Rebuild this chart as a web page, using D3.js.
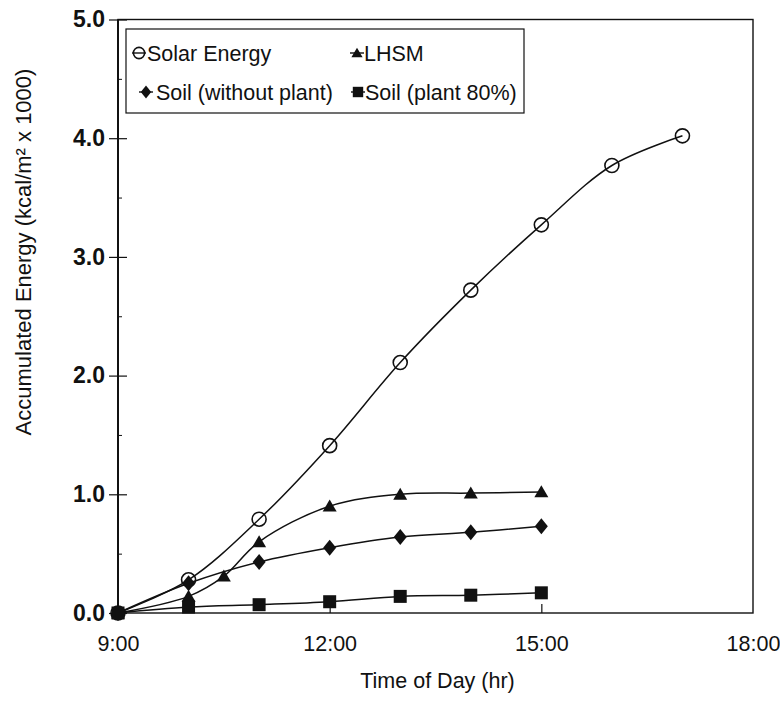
<!DOCTYPE html>
<html>
<head>
<meta charset="utf-8">
<script src="https://cdn.jsdelivr.net/npm/d3@7/dist/d3.min.js"></script>
<style>
  body { margin: 0; background: #fff; }
  svg { display: block; }
  text { font-family: "Liberation Sans", Arial, Helvetica, sans-serif; fill: #111; }
</style>
</head>
<body>
<svg id="chart" width="780" height="705"></svg>
<script>
// ---- data (hours of day, accumulated energy kcal/m2 x 1000) ----
const solarHours = [9, 10, 11, 12, 13, 14, 15, 16, 17];
const solarValues = [0, 0.28, 0.79, 1.41, 2.11, 2.72, 3.27, 3.77, 4.02];
const lhsmHours = [9, 10, 10.5, 11, 12, 13, 14, 15];
const lhsmValues = [0, 0.14, 0.31, 0.60, 0.90, 1.00, 1.01, 1.02];
const soilHours = [9, 10, 11, 12, 13, 14, 15];
const soilValues = [0, 0.25, 0.43, 0.55, 0.64, 0.68, 0.73];
const plantHours = [9, 10, 11, 12, 13, 14, 15];
const plantValues = [0, 0.05, 0.07, 0.095, 0.14, 0.15, 0.17];
const xTickValues = [9, 12, 15, 18];
const xTickLabels = ["9:00", "12:00", "15:00", "18:00"];
const yTickValues = [0, 1, 2, 3, 4, 5];
const yMinorTicks = [0.5, 1.5, 2.5, 3.5, 4.5];
const seriesNames = ["Solar Energy", "LHSM", "Soil (without plant)", "Soil (plant 80%)"];

const svg = d3.select("#chart");
const L = 118, R = 753, T = 19.5, B = 613;
const x = d3.scaleLinear().domain([9, 18]).range([L, R]);
const y = d3.scaleLinear().domain([0, 5]).range([B, T]);
const ink = "#111";

// frame
svg.append("rect").attr("x", L).attr("y", T).attr("width", R - L).attr("height", B - T)
  .attr("fill", "none").attr("stroke", ink).attr("stroke-width", 1.4);
svg.append("line").attr("x1", L).attr("x2", L).attr("y1", T).attr("y2", B)
  .attr("stroke", ink).attr("stroke-width", 2);

// y axis: labels + outward ticks
const yAxisOut = svg.append("g").attr("transform", `translate(${L},0)`)
  .call(d3.axisLeft(y).tickValues(yTickValues).tickFormat(d3.format(".1f")).tickSize(9).tickPadding(4).tickSizeOuter(0));
yAxisOut.select(".domain").remove();
yAxisOut.selectAll("line").attr("stroke", ink).attr("stroke-width", 1.2);
yAxisOut.selectAll("text").attr("font-size", 23).attr("font-weight", "bold")
  .attr("font-family", "Liberation Sans, Arial, sans-serif").attr("fill", ink);

// y inward ticks
const yAxisIn = svg.append("g").attr("transform", `translate(${L},0)`)
  .call(d3.axisRight(y).tickValues(yTickValues).tickFormat("").tickSize(9).tickSizeOuter(0));
yAxisIn.select(".domain").remove();
yAxisIn.selectAll("line").attr("stroke", ink).attr("stroke-width", 1.2);
const yMinor = svg.append("g").attr("transform", `translate(${L},0)`)
  .call(d3.axisRight(y).tickValues(yMinorTicks).tickFormat("").tickSize(4).tickSizeOuter(0));
yMinor.select(".domain").remove();
yMinor.selectAll("line").attr("stroke", ink).attr("stroke-width", 1);

// x axis labels
const xAxis = svg.append("g").attr("transform", `translate(0,${B})`)
  .call(d3.axisBottom(x).tickValues(xTickValues).tickFormat((d, i) => xTickLabels[i]).tickSize(0).tickPadding(23).tickSizeOuter(0));
xAxis.select(".domain").remove();
xAxis.selectAll("text").attr("font-size", 21.5).attr("fill", ink)
  .attr("font-family", "Liberation Sans, Arial, sans-serif");
// x inward ticks
const xIn = svg.append("g").attr("transform", `translate(0,${B})`)
  .call(d3.axisTop(x).tickValues([12, 15]).tickFormat("").tickSize(9).tickSizeOuter(0));
xIn.select(".domain").remove();
xIn.selectAll("line").attr("stroke", ink).attr("stroke-width", 1.2);

// titles
svg.append("text").attr("x", (L + R) / 2 + 2).attr("y", 688).attr("text-anchor", "middle")
  .attr("font-size", 21.5).text("Time of Day (hr)");
svg.append("text").attr("transform", "translate(31,252) rotate(-90)").attr("text-anchor", "middle")
  .attr("font-size", 22).text("Accumulated Energy (kcal/m² x 1000)");

// lines
const line = d3.line().x(d => x(d[0])).y(d => y(d[1])).curve(d3.curveCatmullRom.alpha(0.5));
const series = [
  { hours: solarHours, values: solarValues, sym: "circle" },
  { hours: lhsmHours, values: lhsmValues, sym: "triangle" },
  { hours: soilHours, values: soilValues, sym: "diamond" },
  { hours: plantHours, values: plantValues, sym: "square" }
];
series.forEach(s => {
  const pts = s.hours.map((h, i) => [h, s.values[i]]);
  svg.append("path").datum(pts).attr("d", line).attr("fill", "none")
    .attr("stroke", ink).attr("stroke-width", 1.5);
});

function marker(g, sym, cx, cy, scale) {
  scale = scale || 1;
  if (sym === "circle") {
    g.append("circle").attr("cx", cx).attr("cy", cy).attr("r", 7 * scale)
      .attr("fill", "none").attr("stroke", ink).attr("stroke-width", 1.6);
  } else if (sym === "triangle") {
    const w = 7 * scale, h = 12 * scale;
    g.append("path").attr("d", `M${cx},${cy - h * 0.55} L${cx + w},${cy + h * 0.45} L${cx - w},${cy + h * 0.45} Z`).attr("fill", ink);
  } else if (sym === "diamond") {
    const w = 6.5 * scale, h = 8 * scale;
    g.append("path").attr("d", `M${cx},${cy - h} L${cx + w},${cy} L${cx},${cy + h} L${cx - w},${cy} Z`).attr("fill", ink);
  } else {
    const s = 6.5 * scale;
    g.append("rect").attr("x", cx - s).attr("y", cy - s).attr("width", 2 * s).attr("height", 2 * s).attr("fill", ink);
  }
}

const mg = svg.append("g");
// open circles first, filled markers on top
[0, 1, 2, 3].forEach(k => {
  const s = series[k];
  s.hours.forEach((h, i) => marker(mg, s.sym, x(h), y(s.values[i])));
});

// legend
const lg = svg.append("g");
lg.append("rect").attr("x", 126).attr("y", 29).attr("width", 398).attr("height", 84)
  .attr("fill", "#fff").attr("stroke", ink).attr("stroke-width", 1.2);
const legendItems = [
  { sym: "circle", mx: 139, tx: 147, y: 53, name: seriesNames[0] },
  { sym: "triangle", mx: 357, tx: 364, y: 53, name: seriesNames[1] },
  { sym: "diamond", mx: 146, tx: 156, y: 92, name: seriesNames[2] },
  { sym: "square", mx: 358, tx: 365, y: 92, name: seriesNames[3] }
];
legendItems.forEach(it => {
  lg.append("line").attr("x1", it.mx - 7).attr("x2", it.mx + 7).attr("y1", it.y).attr("y2", it.y)
    .attr("stroke", ink).attr("stroke-width", 1.4);
  marker(lg, it.sym, it.mx, it.y, 0.8);
  lg.append("text").attr("x", it.tx).attr("y", it.y).attr("dy", "0.36em")
    .attr("font-size", 21.5).text(it.name);
});
</script>
</body>
</html>
